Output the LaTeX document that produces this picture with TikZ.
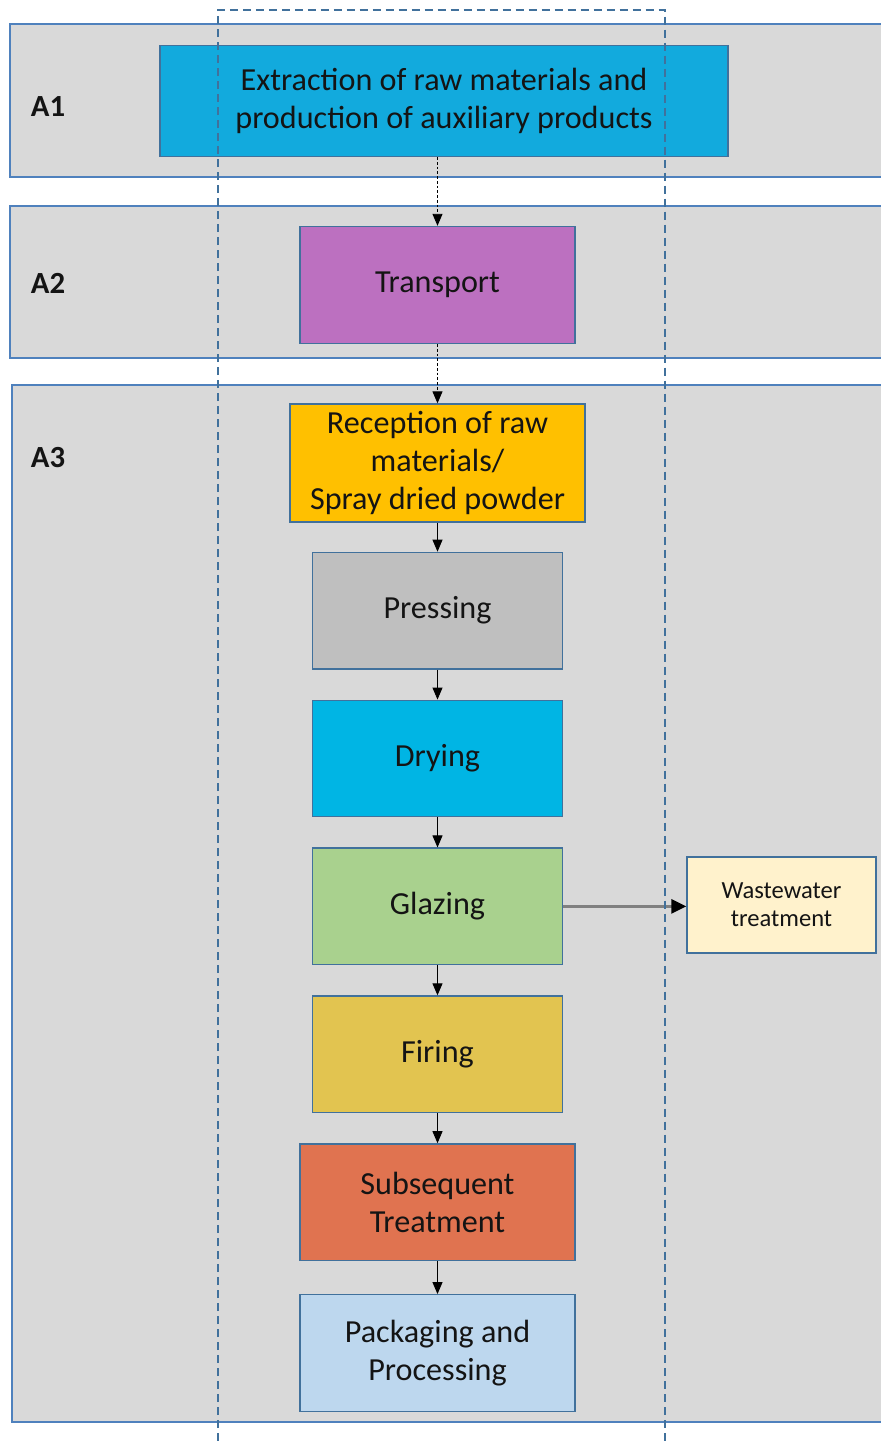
\documentclass[tikz,border=0pt]{standalone}
\usepackage{fontspec}
\setmainfont{Carlito}
\usetikzlibrary{arrows.meta, positioning}
\definecolor{colExtr}     {RGB}{ 18, 170, 221}
\definecolor{colTrans}    {RGB}{188, 112, 192}
\definecolor{colRecep}    {RGB}{255, 192,   0}
\definecolor{colPress}    {RGB}{191, 191, 191}
\definecolor{colDry}      {RGB}{  0, 181, 228}
\definecolor{colGlaze}    {RGB}{169, 209, 142}
\definecolor{colFire}     {RGB}{226, 196,  80}
\definecolor{colSubs}     {RGB}{224, 115,  80}
\definecolor{colPack}     {RGB}{189, 215, 238}
\definecolor{colWaste}    {RGB}{255, 242, 204}
\definecolor{colPanel}    {RGB}{217, 217, 217}
\definecolor{colPanelEdge}{RGB}{ 79, 129, 189}
\definecolor{colEdge}     {RGB}{ 65, 113, 156}
\definecolor{colSide}     {RGB}{128, 128, 128}
\definecolor{colDark}     {RGB}{ 20,  20,  20}
\tikzset{
  procnode/.style={
    rectangle, draw=colEdge, line width=0.8pt, fill=#1, text=colDark,
    font=\fontsize{18.3}{21.8}\selectfont,
    minimum width=5cm, minimum height=2.33cm,
    align=center, inner sep=2pt
  },
  wastenode/.style={
    rectangle, draw=colEdge, line width=0.8pt, fill=colWaste, text=colDark,
    font=\fontsize{14}{16}\selectfont,
    minimum width=3.78cm, minimum height=1.92cm,
    align=center, inner sep=2pt
  },
  panel/.style={
    draw=colPanelEdge, line width=1.3pt, fill=colPanel
  },
  stagelbl/.style={
    font=\fontsize{17.5}{20}\selectfont\bfseries, text=colDark, inner sep=0pt
  },
  frame/.style={
    draw=colEdge, line width=0.85pt, dash pattern=on 0.16cm off 0.1cm
  },
  dotarrow/.style={
    -{Triangle[length=0.24cm, width=0.2cm]}, line width=0.5pt,
    dash pattern=on 1.5pt off 1.2pt, color=black
  },
  flowarrow/.style={
    -{Triangle[length=0.24cm, width=0.2cm]}, line width=0.5pt, color=black
  },
  sidearrow/.style={
    -{Triangle[length=0.3cm, width=0.28cm, color=black]},
    line width=1.6pt, color=colSide
  },
}

\begin{document}
\begin{tikzpicture}[x=0.02cm, y=-0.02cm]
\useasboundingbox (0,0) rectangle (881,1441);

%% ══════════════════════════════════════════════════════════════
%%  STAGE PANELS  (A1, A2, A3)
%% ══════════════════════════════════════════════════════════════
\begin{scope}
  \clip (0,0) rectangle (881,1441);
  \draw[panel] (10,24)  rectangle (900,177);
  \draw[panel] (10,206) rectangle (900,358);
  \draw[panel] (12,385) rectangle (900,1422);
\end{scope}

\node[stagelbl] (lblA1) at (48,107) {A1};
\node[stagelbl] (lblA2) at (48,283) {A2};
\node[stagelbl] (lblA3) at (48,458) {A3};

%% ══════════════════════════════════════════════════════════════
%%  PROCESS CHAIN  (top → bottom)
%% ══════════════════════════════════════════════════════════════

% A1 / A2
\node[procnode=colExtr, minimum width=11.36cm, minimum height=2.22cm]
  (extr) at (444,101)
  {Extraction of raw materials and\\production of auxiliary products};
\node[procnode=colTrans, minimum width=5.5cm, minimum height=2.34cm]
  (trans) at (437.5,285) {Transport};

% A3 (factory)
\node[procnode=colRecep, minimum width=5.9cm, minimum height=2.36cm]
  (recep) at (437.5,463) {Reception of raw\\materials/\\Spray dried powder};
\node[procnode=colPress, below=0.58cm of recep]  (press)  {Pressing};
\node[procnode=colDry,   below=0.6cm of press]   (dry)    {Drying};
\node[procnode=colGlaze, below=0.6cm of dry]     (glaze)  {Glazing};
\node[procnode=colFire,  below=0.6cm of glaze]   (fire)   {Firing};
\node[procnode=colSubs, minimum width=5.5cm, below=0.6cm of fire]
  (subseq) {Subsequent\\Treatment};
\node[procnode=colPack, minimum width=5.5cm, below=0.66cm of subseq]
  (pack) {Packaging and\\Processing};

% side output
\node[wastenode] (waste) at (781.5,905) {Wastewater\\treatment};

%% ── arrows ─────────────────────────────────────────────────
\draw[dotarrow]  (extr.south -| trans.north) -- (trans.north);
\draw[dotarrow]  (trans) -- (recep);
\draw[flowarrow] (recep) -- (press);
\draw[flowarrow] (press) -- (dry);
\draw[flowarrow] (dry)   -- (glaze);
\draw[flowarrow] (glaze) -- (fire);
\draw[flowarrow] (fire)  -- (subseq);
\draw[flowarrow] (subseq) -- (pack);
\draw[sidearrow] (glaze.east) -- (glaze.east -| waste.west);

%% ══════════════════════════════════════════════════════════════
%%  DASHED FRAME  (open at the bottom)
%% ══════════════════════════════════════════════════════════════
\coordinate (frameBL) at (218,1441);
\coordinate (frameTL) at (218,10);
\coordinate (frameTR) at (665,10);
\coordinate (frameBR) at (665,1441);
\draw[frame] (frameBL) -- (frameTL) -- (frameTR) -- (frameBR);

\end{tikzpicture}
\end{document}
